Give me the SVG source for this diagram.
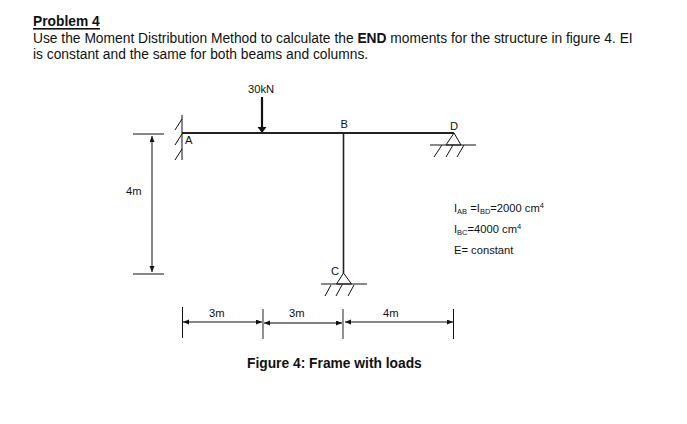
<svg xmlns="http://www.w3.org/2000/svg" width="687" height="424" viewBox="0 0 687 424">
<style>
text{font-family:"Liberation Sans",Arial,sans-serif;fill:#111}
.t{font-size:13.8px}
.s{font-size:11.2px}
.v{font-size:11.2px}
.sub{font-size:7.500px}
.sup{font-size:7.500px}
.b{stroke:#222;stroke-width:2;fill:none}
.c{stroke:#222;stroke-width:1.600;fill:none}
.l{stroke:#111;stroke-width:1;fill:none}
.g{stroke:#555;stroke-width:1.300;fill:none}
</style>
<defs>
<marker id="a" markerWidth="7" markerHeight="6" refX="6" refY="2.500" orient="auto-start-reverse" markerUnits="userSpaceOnUse"><path d="M0 0L6 2.500L0 5z" fill="#111"/></marker>
</defs>
<rect width="687" height="424" fill="#fff"/>
<g id="heading">
<text x="33" y="26" class="t" font-weight="700">Problem 4</text>
<rect x="33" y="28" width="67" height="1.600" fill="#111"/>
<text x="33" y="43" class="t">Use the Moment Distribution Method to calculate the <tspan font-weight="700">END</tspan> moments for the structure in figure 4. EI</text>
<text x="33" y="59" class="t">is constant and the same for both beams and columns.</text>
</g>
<g id="connectors">
<path class="b" d="M182 133H454"/>
<path class="c" d="M343.500 133V273"/>
<path class="l" d="M152 136V272" marker-start="url(#a)" marker-end="url(#a)"/>
<path class="l" d="M133 134H164M133 274H164"/>
<path class="l" d="M183 322H262" marker-start="url(#a)" marker-end="url(#a)"/>
<path class="g" d="M264 323H342" marker-start="url(#a)" marker-end="url(#a)"/>
<path class="l" d="M345 322H453" marker-start="url(#a)" marker-end="url(#a)"/>
<path class="l" d="M182.500 307V338M453.500 309V339"/>
<path class="g" d="M263 309V339M343 309V339"/>
<path stroke="#111" stroke-width="2.200" fill="none" d="M262 97V128"/>
<path fill="#111" d="M257.500 127H266.500L262 133z"/>
</g>
<g id="node-A">
<path class="l" d="M182 115V160M182 119L175 130M182 134L175 145M182 149L175 160"/>
<text x="185" y="144" class="s">A</text>
</g>
<g id="node-B"><text x="340.500" y="128" class="s">B</text></g>
<g id="node-C">
<path class="l" d="M343.500 273L336.500 284H351.500zM321 284H367M331 285L325 296M342 285L336 296M354 285L348 296"/>
<text x="331" y="275" class="s">C</text>
</g>
<g id="node-D">
<path class="l" d="M454 133L446 145H461zM430 145H476M442 145L434 157M453 145L446 157M464 145L457 157"/>
<text x="450" y="130" class="s">D</text>
</g>
<g id="labels">
<text x="248" y="93" class="s">30kN</text>
<text x="126" y="195" class="s">4m</text>
<text x="209" y="317" class="s">3m</text>
<text x="289" y="317" class="s">3m</text>
<text x="383" y="317" class="s">4m</text>
<text x="247" y="368" font-size="13.800px" font-weight="700">Figure 4: Frame with loads</text>
<text x="454" y="212" class="v">I<tspan class="sub" dy="2">AB</tspan><tspan dy="-2"> =I</tspan><tspan class="sub" dy="2">BD</tspan><tspan dy="-2">=2000 cm</tspan><tspan class="sup" dy="-4">4</tspan></text>
<text x="454" y="233" class="v">I<tspan class="sub" dy="2">BC</tspan><tspan dy="-2">=4000 cm</tspan><tspan class="sup" dy="-4">4</tspan></text>
<text x="454" y="254" class="v">E= constant</text>
</g>
</svg>
